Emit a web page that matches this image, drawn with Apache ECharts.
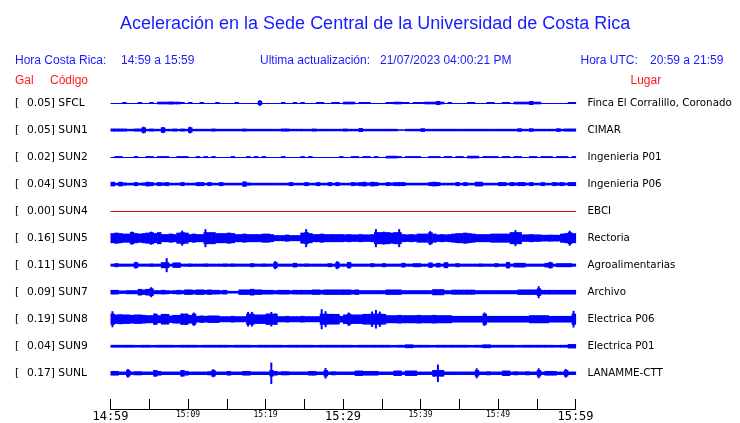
<!DOCTYPE html>
<html><head><meta charset="utf-8">
<script src="https://cdn.jsdelivr.net/npm/echarts@6/dist/echarts.min.js"></script>
<style>html,body{margin:0;padding:0;background:#fff}#c{width:740px;height:423px}</style>
</head><body><div id="c"></div>
<script>
// ---- data ----
const codes = ['SFCL','SUN1','SUN2','SUN3','SUN4','SUN5','SUN6','SUN7','SUN8','SUN9','SUNL'];
const galPeak = ['0.05','0.05','0.02','0.04','0.00','0.16','0.11','0.09','0.19','0.04','0.17'];
const places = ['Finca El Corralillo, Coronado','CIMAR','Ingenieria P01','Ingenieria P06','EBCI','Rectoria','Agroalimentarias','Archivo','Electrica P06','Electrica P01','LANAMME-CTT'];
const timeLabels = ['14:59','15:09','15:19','15:29','15:39','15:49','15:59'];
const titleText = 'Aceleración en la Sede Central de la Universidad de Costa Rica';
const localTime = '14:59 a 15:59';
const utcTime = '20:59 a 21:59';
const updated = '21/07/2023 04:00:21 PM';

// envelope half-amplitudes per time bin (bins span the 60 minutes evenly)
const ampSFCL = [0.5,0.5,0.5,1,0.5,0.5,0.5,1,0.5,0.5, 1,0.5,1.3,1.3,1.3,1.5,1.3,1.3,1,0.5, 1,0.5,0.5,1,0.5,0.5,0.5,1,0.5,0.5, 0.5,0.5,1,0.5,0.5,0.5,0.5,0.5,3,0.5, 0.5,0.5,0.5,0.5,1,0.5,0.5,1,0.5,1, 0.5,0.5,0.5,1,1,0.5,0.5,1,1,0.5, 1.3,1.3,1.3,0.5,1,1,1,0.5,0.5,0.5, 0.5,1,1,1.3,1.3,1,1,0.5,1,1, 1,1.3,1.3,1.3,2,1.3,0.5,1,0.5,0.5, 0.5,0.5,1,1,0.5,0.5,0.5,1,1,0.5, 0.5,1,1,0.5,1.3,1.3,1.3,1.3,2,1.3, 1.3,0.5,0.5,0.5,0.5,0.5,0.5,0.5,1,1];
const ampSUN1 = [1.5,1.5,1.5,1.5,1.2,1.2,1.5,1.5,3.3,1.2, 1.5,1.2,1.2,3,1.2,1.2,1.5,1.2,1.5,1.2, 3.3,1.2,1.2,1.2,1.2,1.2,1.5,1.2,1.2,1.2, 1.2,1.2,1.2,1.2,1.5,1.2,1.2,1.2,1.2,1.2, 1.2,1.2,1.2,1.2,1.5,1.5,1.2,1.2,1.2,1.2, 1.2,1.2,1.5,1.2,1.2,1.2,1.2,1.2,1.2,1.2, 1.5,1.2,1.2,1.2,2,1.2,1.2,1.2,1.2,1.2, 1.2,1.2,1.2,1.2,0.8,0.8,1.2,1.2,1.2,1.2, 1.8,1.2,1.2,1.2,1.2,1.2,1.2,1.2,1.2,1.2, 1.2,1.2,1.2,1.2,1.2,1.2,1.2,1.2,1.2,1.2, 1.2,1.2,1.2,1.2,1.2,1.8,1.2,1.2,1.8,1.2, 1.2,1.2,1.2,1.2,1.2,1.8,1.2,1.5,1.5,1.5];
const ampSUN2 = [0.5,1,1,0.5,0.5,0.5,1,0.5,0.5,1, 1,0.5,1,1,1,0.5,0.5,1,1,1, 0.5,0.5,1,0.5,1,0.5,1,0.5,0.5,0.5, 0.5,1,0.5,0.5,0.5,1,0.5,1,0.5,1, 0.5,0.5,0.5,0.5,1,0.5,0.5,0.5,0.5,1, 0.5,1,0.5,0.5,0.5,0.5,0.5,0.5,0.5,1, 0.5,0.5,1,1,0.5,1,1,0.5,1,0.5, 0.5,1.3,1.3,1.3,1,0.5,1,1,1,1, 0.5,0.5,1,1,1,0.5,1,1,0.5,1, 1,0.5,1.3,1.3,1.3,0.5,1,1,1,1, 0.5,1,1,0.5,1,1,0.5,0.5,1,1, 0.5,1,1,1,0.5,1,1,1,0.5,1];
const ampSUN3 = [2.3,1.3,2.3,1.6,1.3,1.3,2,1.3,1.6,2.3, 2,1.3,2,1.6,2,1.3,1.3,1.3,2,1.3, 1.3,1.3,2,2,1.3,2,1.3,1.3,2,1.3, 1.3,1.3,1.3,1.3,2.7,1.6,1.3,1.3,1.3,1.3, 1.3,1.3,1.3,1.3,1.3,1.3,2,1.3,1.3,1.3, 2,1.3,1.3,2,1.3,1.3,2,1.3,2,1.3, 1.3,1.3,2,1.6,2,2.3,1.6,2.3,2,1.3, 1.3,2,1.6,2,2,2,1.3,1.3,1.3,1.3, 1.3,1.3,2,2.3,2,1.3,1.3,1.3,1.3,2, 1.3,2,1.3,1.3,2.3,2.3,1.3,1.3,1.3,1.3, 2,2,1.3,2,1.6,2,2,1.3,2,1.3, 1.3,2,1.3,1.3,2,1.6,2,1.3,2,2];
const ampSUN4 = [0,0,0,0];
const ampSUN5 = [5,5.5,5,4.5,4.5,6.5,5,4.5,5,5.5, 6.5,5,6,4,4,4.5,4,5.5,7.5,5.5, 4,4.5,4,4,9,6,6,5,5,5, 5.5,5,4,4,4.5,4,4,4,4,4.5, 4.5,4,3,3,3,3.5,3,3,3,5.5, 9,5,4,4,4.5,4,4,4,4,4, 3.7,4,3.7,3.7,4,3.7,3.7,4,9,6, 6.5,6,5.5,6,9,4,3.7,4,3.7,4.5, 4.5,4.5,7,4.5,3.7,4,3.7,4,4.5,5, 5,5.5,5,4.5,4,4,4,4,4.5,4.5, 4.5,4.5,4.5,6,8,6,3.7,3.7,4,3.7, 3.7,3.3,3.3,3.5,3.3,3.3,4.5,5,7.5,5];
const ampSUN6 = [1.5,2,1.5,1.5,1.5,1.5,3.3,1.5,1.5,1.5, 1.7,1.5,1.5,3,7,1.5,2.7,2.7,1.5,1.5, 1.7,1.5,1.5,1.5,1.7,1.5,1.5,1.5,1.5,1.7, 1.5,1.7,1.5,1.5,1.5,1.5,2,1.5,1.5,1.7, 1.5,1.5,4,1.5,1.5,1.5,1.5,2.3,1.5,1.5, 1.7,1.5,1.5,1.5,1.5,1.5,2,1.5,4,1.5, 1.5,3.3,1.5,1.5,1.5,1.5,1.5,2,1.5,1.5, 2,1.5,1.5,1.5,1.5,2.3,1.5,1.5,2,2, 1.5,1.5,2.7,1.5,2.3,1.5,3,1.5,1.5,2, 1.5,1.5,1.5,1.5,1.5,1.7,1.5,1.5,1.5,2, 1.5,1.5,3.3,1.5,2.3,2.3,2.3,1.5,1.5,1.5, 1.5,1.5,2.3,3.3,1.5,2,2,2,2,1.5];
const ampSUN7 = [2.3,2.3,1.7,1.7,2,2,2,3.3,2.7,3.3, 5,2,2,2.3,2,1.7,2,2.3,2,2.7, 2.7,2.3,2.7,2.7,2.3,2.7,2.3,2.3,2,2.3, 1.3,1.3,1.3,2.7,2.7,2.7,3.3,2.7,2.7,2.3, 2.3,2.3,2,2.3,2.3,2.3,2,2.3,2.3,2.3, 2.3,2.3,2.7,2.7,2.3,2.7,2.7,2.7,2.7,2.7, 2.7,2.7,2.3,2.7,2,2,2,2,2,2, 2,2.7,2.7,2.7,2.7,2,2,2,2,2, 2,2,2,3,3,3,2,2,2.5,2.5, 2.5,2.5,2.5,2.5,2,2,2,2,2,2, 2,2,2,2,2,2.7,2.7,2.7,2.7,2.7, 6,2.3,2.3,2.3,2.3,2.3,2.3,2.3,2.3,2.3];
const ampSUN8 = [8,4.7,5,4.7,4.7,4.3,4.7,4.7,4.3,4, 4,5.7,4,5.3,5.3,3.7,4.3,4.3,5.7,5.7, 4.3,6.7,3.3,3.7,3.3,3.7,3.7,3.7,3,3, 3,3.3,3,3,3,7.3,7.3,4.7,4.7,4.7, 5.7,7.3,5.7,3,3,3.3,3,3,3,3.3, 3,3,3,3,10,8,5.3,5.3,5.3,3.3, 4.7,6.7,4.7,4.7,4.7,5.3,5.3,7.7,9.3,7.7, 5.3,4,4,4,4.3,4,4,4,4,4.3, 4,4,4,4.3,4,4,4,4,3.3,3.3, 3.3,3.3,3.3,3.3,3.3,3.3,6.7,3.3,3.3,3.3, 3.3,3.3,3.3,3.3,3.3,3.3,3.3,3.3,4,4, 4,4,4,3.3,3.3,3.3,3.3,3.3,3.3,8.3];
const ampSUN9 = [1.4,1.4,1.4,1.3,1.4,1.3,1.4,1.4,1.3,1.4, 1.4,1.3,1.4,1.4,1.4,1.3,1.4,1.4,1.3,1.4, 1.4,1.4,1.3,1.4,1.4,1.4,1.3,1.4,1.4,1.4, 1.4,1.3,1.4,1.4,1.4,1.4,1.3,1.4,1.9,1.4, 1.4,1.3,1.4,1.4,1.4,1.4,1.3,1.4,1.9,1.4, 1.4,1.4,1.3,1.4,1.4,1.4,1.4,1.3,1.4,2.2];
const ampSUNL = [2.3,2.3,1.7,1.7,4.3,1.7,2,2,1.7,1.7, 1.7,3.3,2.3,1.7,1.7,1.7,1.7,1.7,3.3,2.3, 1.7,1.7,1.7,1.7,1.7,2,4,1.7,1.7,1.7, 2.3,1.7,1.7,1.7,2.3,2.3,1.7,1.7,1.7,1.7, 1.7,10.7,2.3,1.7,2,2,1.7,1.7,1.7,1.7, 1.7,2.3,2.3,1.7,1.7,5.3,1.7,2,1.7,1.7, 1.7,1.7,1.7,2.7,2.7,2.3,2.3,2.3,2.3,1.7, 1.7,1.7,1.7,2.7,2.7,1.7,2.7,2.7,2.7,1.7, 1.7,1.7,1.7,3.3,8.7,3.3,1.7,1.7,1.7,1.7, 1.7,1.7,1.7,1.7,5,1.7,1.7,2,1.7,1.7, 1.7,2.7,2.7,1.7,2,1.7,1.7,2,1.7,1.7, 5,1.7,2.3,2.3,2.3,1.7,1.7,4.3,1.7,1.7];

const traces = [ampSFCL, ampSUN1, ampSUN2, ampSUN3, ampSUN4, ampSUN5, ampSUN6, ampSUN7, ampSUN8, ampSUN9, ampSUNL];

// ---- styling / layout ----
const ROW = 27;
const BLUE = '#0000ff';
const TXT_BLUE = '#1a1aff';
const TXT_RED = '#ff1a1a';
const traceColor = codes.map(c => c === 'SUN4' ? '#dd0000' : BLUE);
const SPIKE_W = 2;      // px width for the part of a peak well above the trace's usual level
const BODY_EXTRA = 1.5; // px above the median level still drawn as a full-width block

function median(arr) {
  const s = arr.slice().sort((a, b) => a - b);
  return s[Math.floor(s.length / 2)];
}

function rowIndex(v) {
  const k = Math.round(v / ROW);
  if (Math.abs(v - k * ROW) > 0.01 || k < 0 || k >= codes.length) return -1;
  return k;
}

const series = traces.map((amps, k) => {
  const w = 60 / amps.length;
  const bodyCap = median(amps) + BODY_EXTRA;
  return {
    type: 'custom',
    silent: true,
    animation: false,
    xAxisIndex: 0,
    yAxisIndex: 0,
    encode: { x: [0, 1], y: 2 },
    data: amps.map((a, i) => [i * w, (i + 1) * w, k * ROW, a]),
    renderItem: function (params, api) {
      const c = api.value(2), a = api.value(3);
      const body = Math.min(a, bodyCap);
      const p0 = api.coord([api.value(0), c - body]);
      const p1 = api.coord([api.value(1), c + body]);
      let y = p0[1], h = p1[1] - p0[1];
      if (h < 1.2) { const mid = (p0[1] + p1[1]) / 2; y = Math.round(mid - 0.5); h = 1; }
      const children = [{
        type: 'rect',
        shape: { x: p0[0], y: y, width: p1[0] - p0[0] + 0.6, height: h },
        style: { fill: traceColor[k] }
      }];
      if (a > bodyCap) {
        const q0 = api.coord([api.value(0), c - a]);
        const q1 = api.coord([api.value(1), c + a]);
        const xm = (q0[0] + q1[0]) / 2;
        children.push({
          type: 'rect',
          shape: { x: xm - SPIKE_W / 2, y: q0[1], width: SPIKE_W, height: q1[1] - q0[1] },
          style: { fill: traceColor[k] }
        });
      }
      return { type: 'group', children: children };
    }
  };
});

const yCommon = {
  type: 'value', inverse: true, min: -ROW, max: 305.7, interval: ROW,
  axisLine: { show: false }, axisTick: { show: false }, splitLine: { show: false }
};

const chart = echarts.init(document.getElementById('c'), null, { renderer: 'canvas' });
chart.setOption({
  animation: false,
  backgroundColor: '#ffffff',
  title: {
    text: titleText, left: 115, top: 10,
    textStyle: { fontFamily: 'Liberation Sans', fontSize: 18, fontWeight: 'normal', color: TXT_BLUE }
  },
  grid: { left: 110.5, right: 164.5, top: 76, bottom: 14 },
  xAxis: {
    type: 'value', min: 0, max: 60, interval: 5, position: 'bottom',
    axisLine: { onZero: false, lineStyle: { color: '#000', width: 1 } },
    axisTick: { inside: true, length: 10, lineStyle: { color: '#000' } },
    splitLine: { show: false },
    axisLabel: {
      margin: 2, showMinLabel: true, showMaxLabel: true,
      formatter: function (v) {
        if (v % 10 !== 0) return '';
        const t = timeLabels[v / 10];
        return v % 30 === 0 ? '{big|' + t + '}' : '{small|' + t + '}';
      },
      rich: {
        big: { fontFamily: 'DejaVu Sans Mono', fontSize: 12, color: '#000' },
        small: { fontFamily: 'DejaVu Sans Mono', fontSize: 8, color: '#000' }
      }
    }
  },
  yAxis: [
    Object.assign({}, yCommon, {
      position: 'left',
      axisLabel: {
        align: 'left', margin: 95.5,
        formatter: function (v) {
          const k = rowIndex(v);
          if (k < 0) return '';
          return '{b|[}{t|' + galPeak[k] + '] ' + codes[k] + '}';
        },
        rich: {
          b: { width: 12, fontFamily: 'DejaVu Sans', fontSize: 10.7, color: '#000' },
          t: { fontFamily: 'DejaVu Sans', fontSize: 10.7, color: '#000' }
        }
      }
    }),
    Object.assign({}, yCommon, {
      position: 'right',
      axisLabel: {
        align: 'left', margin: 12,
        fontFamily: 'DejaVu Sans', fontSize: 10.3, color: '#000',
        formatter: function (v) {
          const k = rowIndex(v);
          return k < 0 ? '' : places[k];
        }
      }
    })
  ],
  graphic: [
    { type: 'text', x: 15, y: 61, style: { text: 'Hora Costa Rica:', font: '12px "Liberation Sans"', fill: TXT_BLUE, verticalAlign: 'middle' } },
    { type: 'text', x: 121, y: 61, style: { text: localTime, font: '12px "Liberation Sans"', fill: TXT_BLUE, verticalAlign: 'middle' } },
    { type: 'text', x: 260, y: 61, style: { text: 'Ultima actualización:', font: '12px "Liberation Sans"', fill: TXT_BLUE, verticalAlign: 'middle' } },
    { type: 'text', x: 380, y: 61, style: { text: updated, font: '12px "Liberation Sans"', fill: TXT_BLUE, verticalAlign: 'middle' } },
    { type: 'text', x: 580.5, y: 61, style: { text: 'Hora UTC:', font: '12px "Liberation Sans"', fill: TXT_BLUE, verticalAlign: 'middle' } },
    { type: 'text', x: 650, y: 61, style: { text: utcTime, font: '12px "Liberation Sans"', fill: TXT_BLUE, verticalAlign: 'middle' } },
    { type: 'text', x: 15, y: 81, style: { text: 'Gal', font: '12px "Liberation Sans"', fill: TXT_RED, verticalAlign: 'middle' } },
    { type: 'text', x: 50, y: 81, style: { text: 'Código', font: '12px "Liberation Sans"', fill: TXT_RED, verticalAlign: 'middle' } },
    { type: 'text', x: 630.5, y: 81, style: { text: 'Lugar', font: '12px "Liberation Sans"', fill: TXT_RED, verticalAlign: 'middle' } }
  ],
  series: series
});
</script>
</body></html>
